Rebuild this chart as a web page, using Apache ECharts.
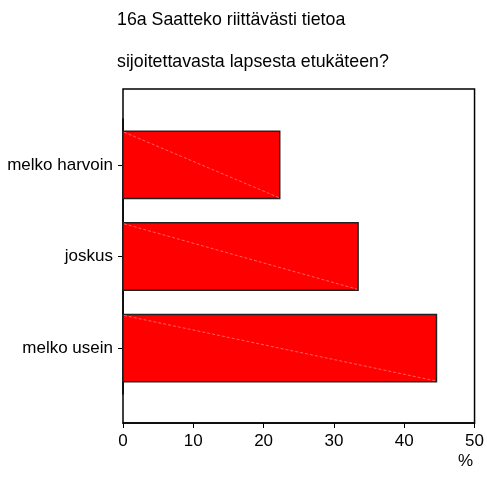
<!DOCTYPE html>
<html><head><meta charset="utf-8">
<script src="https://cdn.jsdelivr.net/npm/echarts@6/dist/echarts.min.js"></script>
<style>html,body{margin:0;padding:0;background:#fff}#c{width:487px;height:494px}</style>
</head><body><div id="c"></div>
<script>
const titleLines = ['16a Saatteko riittävästi tietoa', 'sijoitettavasta lapsesta etukäteen?'];
const categories = ['melko usein', 'joskus', 'melko harvoin'];
const values = [44.4, 33.3, 22.2];
const xTicks = [0, 10, 20, 30, 40, 50];
const unitLabel = '%';

const chart = echarts.init(document.getElementById('c'), null, {renderer: 'canvas'});
const font = 'Liberation Sans, Arial, sans-serif';
chart.setOption({
  animation: false,
  title: [
    {text: titleLines[0], left: 112, top: 6, textStyle: {fontFamily: font, fontSize: 17.8, fontWeight: 'normal', color: '#000'}},
    {text: titleLines[1], left: 112, top: 48, textStyle: {fontFamily: font, fontSize: 17.8, fontWeight: 'normal', color: '#000'}},
    {text: unitLabel, left: 453, top: 448, textStyle: {fontFamily: font, fontSize: 17, fontWeight: 'normal', color: '#000'}}
  ],
  grid: [
    {left: 123, top: 89, width: 353, height: 334, show: true, borderColor: '#000', borderWidth: 1.5, backgroundColor: 'transparent'},
    {left: 123, top: 119, width: 353, height: 275}
  ],
  xAxis: [
    {gridIndex: 0, type: 'value', min: xTicks[0], max: xTicks[xTicks.length-1], interval: 10,
     axisLine: {show: true, lineStyle: {color: '#000', width: 1.5}},
     axisTick: {show: true, length: 5, lineStyle: {color: '#000'}},
     axisLabel: {color: '#000', fontFamily: font, fontSize: 17, margin: 10},
     splitLine: {show: false}},
    {gridIndex: 1, type: 'value', min: xTicks[0], max: xTicks[xTicks.length-1], show: false}
  ],
  yAxis: [
    {gridIndex: 0, type: 'value', show: false},
    {gridIndex: 1, type: 'category', data: categories,
     axisLine: {show: true, lineStyle: {color: '#000', width: 1.5}},
     axisTick: {show: true, alignWithLabel: true, length: 5, lineStyle: {color: '#000'}},
     axisLabel: {color: '#000', fontFamily: font, fontSize: 17, margin: 10}}
  ],
  series: [{
    type: 'custom',
    xAxisIndex: 1, yAxisIndex: 1,
    data: values.map((v, i) => [v, i]),
    encode: {x: 0, y: 1},
    renderItem: function (params, api) {
      const v = api.value(0), c = api.value(1);
      const p0 = api.coord([0, c]);
      const p1 = api.coord([v, c]);
      const band = api.size([0, 1])[1];
      const h = band * 0.735;
      const top = p0[1] - h / 2;
      return {
        type: 'group',
        children: [
          {type: 'rect', shape: {x: p0[0], y: top, width: p1[0] - p0[0], height: h},
           style: {fill: '#ff0000', stroke: '#222', lineWidth: 1.5}},
          {type: 'line', shape: {x1: p0[0] + 1, y1: top + 1, x2: p1[0] - 1, y2: top + h - 1},
           style: {stroke: '#ff7a7a', lineWidth: 0.8, lineDash: [3, 2]}}
        ]
      };
    }
  }]
});
</script></body></html>
